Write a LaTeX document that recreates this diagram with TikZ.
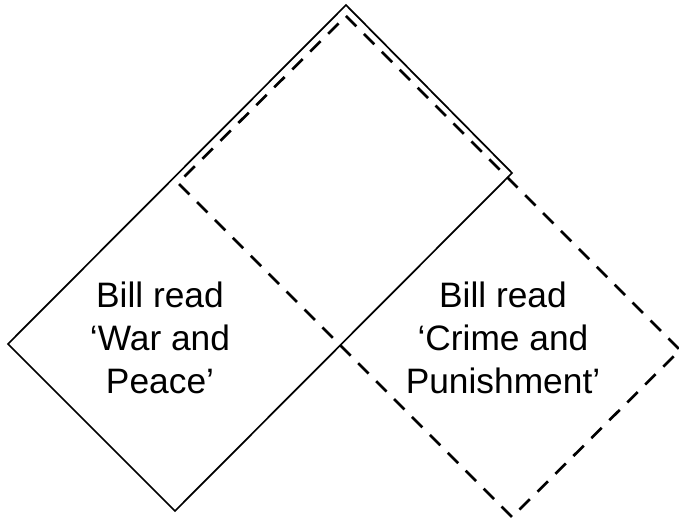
\documentclass[tikz,border=0pt]{standalone}
\usepackage{fontspec}
\setmainfont{Liberation Sans}
\tikzset{
  book/.style={align=center,inner sep=0pt,font=\fontsize{26.5}{32.25}\selectfont},
  solidbox/.style={line width=1.3pt,line join=miter},
  dashbox/.style={line width=2pt,dash pattern=on 11pt off 8pt,line join=miter}
}
\begin{document}
\begin{tikzpicture}[x=0.75pt,y=-0.75pt]
  \useasboundingbox (0,0) rectangle (679,520);
  % the two readings, as tilted boxes
  \draw[solidbox] (346,5) -- (512,173) -- (175,511) -- (8,344) -- cycle;
  \draw[dashbox] (346,16) -- (680,350) -- (512,517) -- (178,183) -- cycle;
  \node[book] (war) at (160,338) {Bill read\\‘War and\\Peace’};
  \node[book] (crime) at (503,338) {Bill read\\‘Crime and\\Punishment’};
\end{tikzpicture}
\end{document}
